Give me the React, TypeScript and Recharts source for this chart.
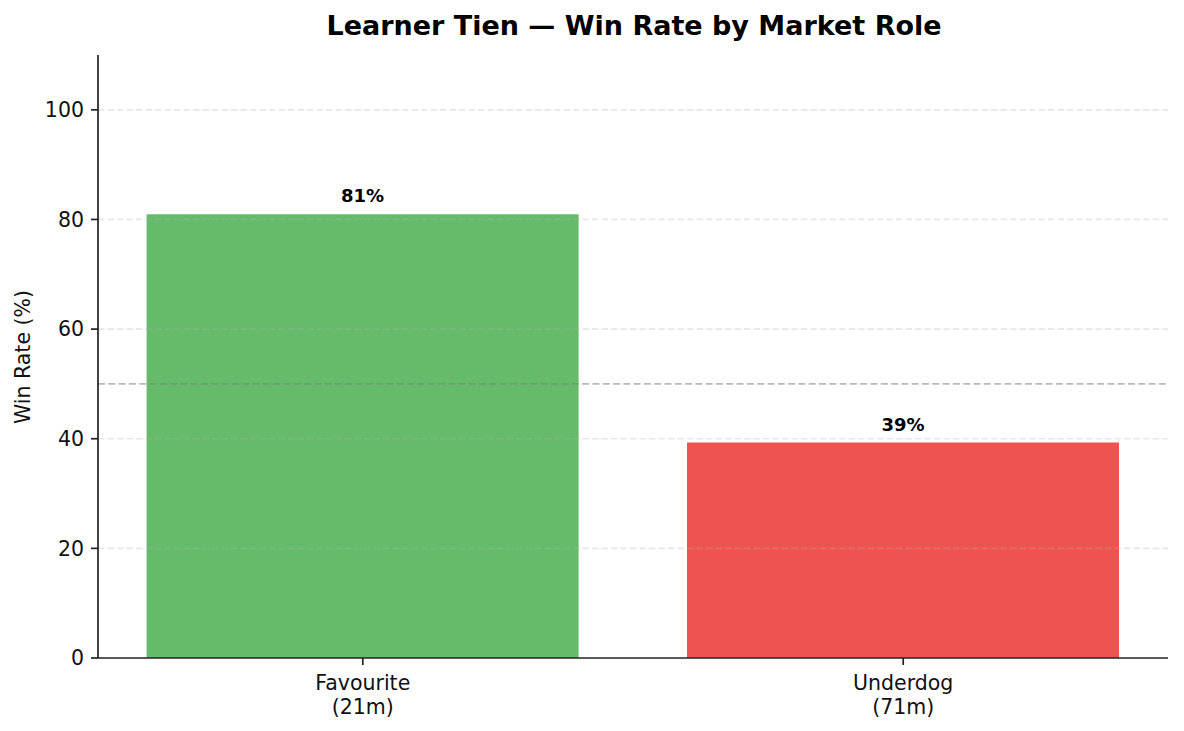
import { BarChart, Bar, XAxis, YAxis, Cell, LabelList, ReferenceLine } from 'recharts';

const roles = ['Favourite', 'Underdog'];
const matchCounts = ['(21m)', '(71m)'];
const winRates = [80.95, 39.3];
const barColors = ['#66bb6a', '#ef5350'];
const yTicks = [0, 20, 40, 60, 80, 100];
const gridValues = [20, 40, 60, 80, 100];

const FONT = '"DejaVu Sans", sans-serif';

const data = roles.map((role, i) => ({ x: i, role, rate: winRates[i] }));

function RoleTick(props: any) {
  const { x, y, payload } = props;
  const i = payload.value as number;
  return (
    <text x={x} y={y} textAnchor="middle" fontSize={20.5} fill="#111" fontFamily={FONT}>
      <tspan x={x} dy={23}>{roles[i]}</tspan>
      <tspan x={x} dy={24}>{matchCounts[i]}</tspan>
    </text>
  );
}

export default function App() {
  return (
    <div style={{ position: 'absolute', left: 0, top: 0, width: 1184, height: 731, background: '#fff' }}>
      <BarChart
        width={1184}
        height={731}
        data={data}
        margin={{ top: 55, right: 16, bottom: 0, left: 0 }}
        style={{ fontFamily: FONT }}
      >
        <XAxis
          dataKey="x"
          type="number"
          domain={[-0.49, 1.49]}
          allowDataOverflow
          ticks={[0, 1]}
          height={73}
          tickSize={7}
          tickMargin={2}
          stroke="#222"
          strokeWidth={1.7}
          tick={<RoleTick />}
        />
        <YAxis
          type="number"
          domain={[0, 110]}
          ticks={yTicks}
          width={98}
          tickSize={7}
          tickMargin={7}
          stroke="#222"
          strokeWidth={1.7}
          tick={{ fontSize: 20.5, fill: '#111', fontFamily: FONT }}
        />
        <Bar dataKey="rate" barSize={432} isAnimationActive={false}>
          {data.map((d, i) => (
            <Cell key={d.role} fill={barColors[i]} />
          ))}
          <LabelList
            dataKey="rate"
            position="top"
            offset={12}
            formatter={(v: any) => `${Math.round(Number(v))}%`}
            style={{ fontSize: 18, fontWeight: 'bold', fill: '#000', fontFamily: FONT }}
          />
        </Bar>
        {gridValues.map((v) => (
          <ReferenceLine
            key={v}
            y={v}
            stroke="#b0b0b0"
            strokeOpacity={0.3}
            strokeWidth={1.7}
            strokeDasharray="6.5 3"
          />
        ))}
        <ReferenceLine y={50} stroke="#808080" strokeOpacity={0.55} strokeWidth={1.7} strokeDasharray="7 3.3" />
      </BarChart>
      <svg
        width={1184}
        height={731}
        style={{ position: 'absolute', left: 0, top: 0, pointerEvents: 'none' }}
      >
        <text x={634} y={35} textAnchor="middle" fontSize={27} fontWeight="bold" fill="#000" fontFamily={FONT}>
          Learner Tien — Win Rate by Market Role
        </text>
        <text
          x={30}
          y={357}
          transform="rotate(-90 30 357)"
          textAnchor="middle"
          fontSize={20.5}
          fill="#111"
          fontFamily={FONT}
        >
          Win Rate (%)
        </text>
      </svg>
    </div>
  );
}
